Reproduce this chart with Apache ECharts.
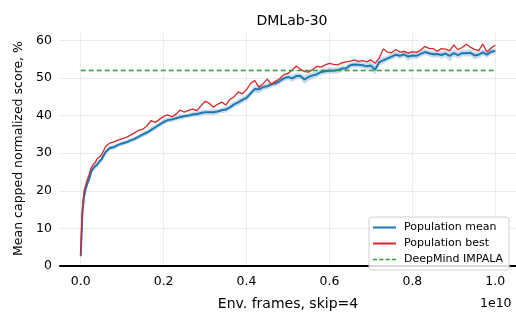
<!DOCTYPE html>
<html>
<head>
<meta charset="utf-8">
<script src="https://cdn.jsdelivr.net/npm/echarts@6/dist/echarts.min.js"></script>
<style>
  html, body { margin: 0; padding: 0; background: #fff; }
  #chart { width: 516px; height: 316px; }
</style>
</head>
<body>
<div id="chart"></div>
<script>
// env frames (x 1e10)
const frames = [0, 0.004, 0.008, 0.012, 0.016, 0.02, 0.025, 0.03, 0.035, 0.04, 0.045,
  0.05, 0.06, 0.07, 0.08, 0.09, 0.10, 0.11, 0.12, 0.13, 0.14, 0.15, 0.16, 0.17, 0.18, 0.19,
  0.20, 0.21, 0.22, 0.23, 0.24, 0.25, 0.26, 0.27, 0.28, 0.29, 0.30, 0.31, 0.32, 0.33, 0.34,
  0.35, 0.36, 0.37, 0.38, 0.39, 0.40, 0.41, 0.42, 0.43, 0.44, 0.45, 0.46, 0.47, 0.48, 0.49,
  0.50, 0.51, 0.52, 0.53, 0.54, 0.55, 0.56, 0.57, 0.58, 0.59, 0.60, 0.61, 0.62, 0.63, 0.64,
  0.65, 0.66, 0.67, 0.68, 0.69, 0.70, 0.71, 0.72, 0.73, 0.74, 0.75, 0.76, 0.77, 0.78, 0.79,
  0.80, 0.81, 0.82, 0.83, 0.84, 0.85, 0.86, 0.87, 0.88, 0.89, 0.90, 0.91, 0.92, 0.93, 0.94,
  0.95, 0.96, 0.97, 0.98, 0.99, 1.00]

// population mean score
const popMean = [2.6, 14.0, 18.5, 20.5, 22.0, 23.0, 25.0, 26.0, 26.5, 27.0, 27.8,
  28.3, 30.3, 31.4, 31.6, 32.2, 32.6, 32.9, 33.4, 33.8, 34.4, 35.0, 35.5, 36.2, 36.9, 37.6,
  38.3, 38.8, 39.0, 39.3, 39.6, 39.8, 40.0, 40.3, 40.4, 40.7, 40.9, 40.9, 40.9, 41.1, 41.4,
  41.6, 42.2, 43.0, 43.5, 44.2, 44.7, 45.9, 47.1, 47.0, 47.6, 47.8, 48.3, 48.6, 49.2, 49.9,
  50.3, 49.9, 50.5, 50.5, 49.6, 50.3, 50.7, 51.0, 51.6, 51.8, 52.0, 51.9, 52.1, 52.5, 52.5,
  53.4, 53.6, 53.5, 53.4, 53.1, 53.3, 52.2, 54.2, 54.7, 55.2, 55.7, 56.2, 55.9, 56.3, 55.7,
  56.0, 55.9, 56.4, 56.9, 56.6, 56.3, 56.4, 56.1, 56.5, 55.9, 56.6, 56.1, 56.6, 56.6, 56.7,
  56.0, 56.2, 56.8, 56.2, 57.0, 57.2]

// spread of the population around the mean
const popSpread = [0.4, 1.2, 1.0, 1.0, 0.9, 0.9, 0.8, 0.8, 0.8, 0.8, 0.8,
  0.8, 0.7, 0.7, 0.6, 0.6, 0.6, 0.6, 0.6, 0.6, 0.6, 0.7, 0.7, 0.7, 0.7, 0.7,
  0.7, 0.7, 0.8, 0.7, 0.7, 0.6, 0.6, 0.7, 0.7, 0.8, 0.7, 0.7, 0.8, 0.7, 0.7,
  0.8, 0.8, 0.8, 0.9, 0.9, 0.8, 0.9, 0.9, 1.1, 0.9, 0.8, 0.8, 0.8, 0.8, 0.8,
  0.8, 0.9, 0.9, 0.8, 1.2, 1.0, 0.8, 0.8, 0.8, 0.8, 0.8, 0.8, 0.9, 0.8, 0.8,
  0.8, 0.8, 0.8, 0.8, 0.9, 0.9, 1.3, 1.0, 0.9, 0.8, 0.8, 0.8, 0.9, 0.8, 1.2,
  0.9, 0.9, 0.8, 0.8, 0.8, 0.9, 0.9, 1.0, 0.9, 1.5, 0.9, 1.0, 0.9, 0.9, 0.9,
  1.0, 1.0, 0.8, 0.9, 0.8, 0.8]

// population best score
const popBest = [3.0, 15.5, 20.0, 21.5, 23.0, 24.2, 26.0, 27.0, 27.5, 28.6, 29.0,
  29.5, 31.8, 32.7, 33.0, 33.5, 33.9, 34.2, 34.8, 35.4, 36.1, 36.4, 37.3, 38.7, 38.2, 39.0,
  39.8, 40.2, 39.7, 40.4, 41.5, 40.9, 41.4, 41.7, 41.3, 42.6, 43.8, 43.3, 42.2, 43.0, 43.6,
  42.8, 44.3, 45.0, 46.3, 45.8, 46.9, 48.6, 49.3, 47.5, 48.5, 49.7, 48.3, 49.1, 49.8, 50.9,
  51.2, 52.1, 53.2, 52.3, 51.7, 51.6, 52.3, 53.1, 52.9, 53.5, 53.9, 53.6, 53.5, 54.0, 54.3,
  54.5, 54.8, 54.4, 54.6, 54.3, 54.8, 53.9, 55.3, 57.7, 56.9, 56.7, 57.6, 56.9, 57.1, 56.6,
  57.0, 56.8, 57.4, 58.4, 57.9, 57.8, 57.1, 57.8, 57.7, 57.3, 58.8, 57.5, 58.1, 59.0, 58.2,
  57.6, 57.3, 59.0, 56.9, 58.0, 58.7]

// DeepMind IMPALA reference
const impalaFrames = [0, 1.0]
const impalaScore = [52, 52]

const xTicks = [0, 0.2, 0.4, 0.6, 0.8, 1.0]
const yTicks = [0, 10, 20, 30, 40, 50, 60]

const font = 'DejaVu Sans'

const meanData = frames.map((f, i) => [f, popMean[i]])
const bestData = frames.map((f, i) => [f, popBest[i]])
const bandData = frames.map((f, i) => [f, popMean[i] - popSpread[i], popMean[i] + popSpread[i]])
const impalaData = impalaFrames.map((f, i) => [f, impalaScore[i]])

// shaded band: one polygon over all points
const renderBand = (params, api) => {
  if (params.dataIndex !== 0) return
  const upper = bandData.map(d => api.coord([d[0], d[2]]))
  const lower = bandData.map(d => api.coord([d[0], d[1]])).reverse()
  return {
    type: 'polygon',
    shape: { points: upper.concat(lower) },
    style: { fill: 'rgba(31,119,180,0.25)' },
    silent: true,
  }
}

const dashIcon = 'path://M0,0h4v1.5h-4z M6.3,0h4v1.5h-4z M12.6,0h4v1.5h-4z M18.9,0h4v1.5h-4z'

let chart = echarts.init(document.getElementById('chart'))
let option = {
  animation: false,
  title: {
    text: 'DMLab-30',
    left: 287,
    top: 9,
    textAlign: 'center',
    textStyle: { fontFamily: font, fontSize: 14, fontWeight: 'normal', color: '#000' },
  },
  grid: { left: 60, right: 0, top: 31, bottom: 43 },
  legend: {
    data: [
      { name: 'Population mean', icon: 'rect', itemStyle: { color: '#1f77b4' } },
      { name: 'Population best', icon: 'rect', itemStyle: { color: '#d62728' } },
      { name: 'DeepMind IMPALA', icon: dashIcon, itemStyle: { color: '#2ca02c' } },
    ],
    orient: 'vertical',
    left: 369,
    top: 217,
    padding: [4, 6, 4, 4],
    itemWidth: 23,
    itemHeight: 2,
    itemGap: 3,
    backgroundColor: 'rgba(255,255,255,0.85)',
    borderColor: '#d0d0d0',
    borderWidth: 1,
    borderRadius: 3,
    textStyle: { fontFamily: font, fontSize: 11, lineHeight: 13, color: '#000', padding: [0, 0, 0, 3] },
  },
  xAxis: {
    type: 'value',
    min: -0.05,
    max: 1.05,
    name: 'Env. frames, skip=4',
    nameLocation: 'middle',
    nameGap: 31,
    nameTextStyle: { fontFamily: font, fontSize: 14, color: '#000' },
    axisLine: { show: true, lineStyle: { color: '#000', width: 2 } },
    axisTick: { show: false, customValues: xTicks },
    axisLabel: {
      customValues: xTicks,
      margin: 9,
      fontFamily: font,
      fontSize: 12.5,
      color: '#000',
      formatter: v => v.toFixed(1),
    },
    splitLine: { show: true, lineStyle: { color: '#ebebeb', width: 1 } },
  },
  yAxis: {
    type: 'value',
    min: 0,
    max: 62.5,
    name: 'Mean capped normalized score, %',
    nameLocation: 'middle',
    nameGap: 34,
    nameTextStyle: { fontFamily: font, fontSize: 12.5, color: '#000' },
    axisLine: { show: false },
    axisTick: { show: false, customValues: yTicks },
    axisLabel: { customValues: yTicks, margin: 8, fontFamily: font, fontSize: 12.5, color: '#000' },
    splitLine: { show: true, lineStyle: { color: '#ebebeb', width: 1 } },
  },
  graphic: [
    {
      type: 'text',
      left: 480,
      top: 297,
      style: { text: '1e10', font: '12.5px "DejaVu Sans"', fill: '#000' },
    },
  ],
  series: [
    {
      type: 'custom',
      data: bandData,
      encode: { x: 0, y: [1, 2] },
      renderItem: renderBand,
      silent: true,
      z: 1,
    },
    {
      name: 'Population mean',
      type: 'line',
      data: meanData,
      symbol: 'none',
      color: '#1f77b4',
      lineStyle: { width: 2 },
      z: 2,
    },
    {
      name: 'Population best',
      type: 'line',
      data: bestData,
      symbol: 'none',
      color: '#d62728',
      lineStyle: { width: 1.3 },
      z: 3,
    },
    {
      name: 'DeepMind IMPALA',
      type: 'line',
      data: impalaData,
      symbol: 'none',
      color: '#2ca02c',
      lineStyle: { width: 1.3, type: [5, 3] },
      z: 4,
    },
  ],
}
chart.setOption(option)
</script>
</body>
</html>
